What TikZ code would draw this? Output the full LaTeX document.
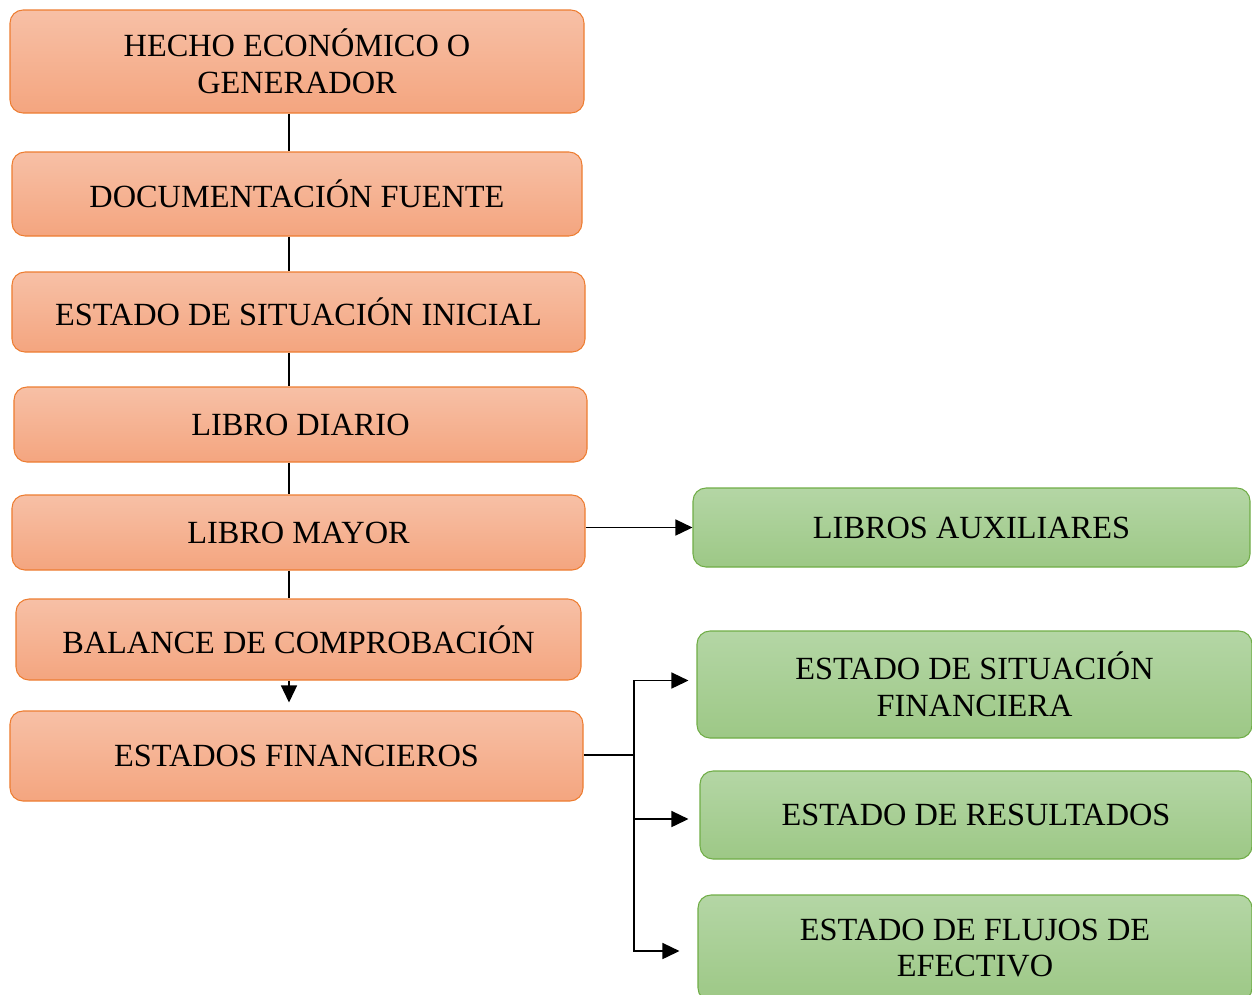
\documentclass[tikz,border=0pt]{standalone}
\usepackage{fontspec}
\setmainfont{Liberation Serif}
\usetikzlibrary{arrows.meta}
\definecolor{orangetop}{HTML}{F7C0A6}
\definecolor{orangebot}{HTML}{F4A57F}
\definecolor{orangeline}{HTML}{ED7D31}
\definecolor{greentop}{HTML}{B4D6A5}
\definecolor{greenbot}{HTML}{9DC886}
\definecolor{greenline}{HTML}{70AD47}

\begin{document}
\begin{tikzpicture}[
    stagebox/.style={draw=orangeline, line width=0.6pt, rounded corners=0.26cm,
      top color=orangetop, bottom color=orangebot, align=center,
      font=\fontsize{18.4}{21}\selectfont, inner sep=0pt},
    reportbox/.style={stagebox, draw=greenline, top color=greentop, bottom color=greenbot},
    link/.style={line width=0.8pt},
    tip/.style={link, -{Triangle[length=0.34cm, width=0.32cm]}}
  ]
     \useasboundingbox (0,0) rectangle (25.04,-19.88);
     \node[name=hecho, stagebox, minimum width=11.48cm, minimum height=2.06cm] at (5.94,-1.23){HECHO ECONÓMICO O\\GENERADOR};
     \node[name=docu, stagebox, minimum width=11.4cm, minimum height=1.68cm] at (5.94,-3.88){DOCUMENTACIÓN FUENTE};
     \node[name=inicial, stagebox, minimum width=11.46cm, minimum height=1.6cm] at (5.97,-6.24){ESTADO DE SITUACIÓN INICIAL};
     \node[name=diario, stagebox, minimum width=11.46cm, minimum height=1.5cm] at (6.01,-8.49){LIBRO DIARIO};
     \node[name=mayor, stagebox, minimum width=11.46cm, minimum height=1.5cm] at (5.97,-10.65){LIBRO MAYOR};
     \node[name=balance, stagebox, minimum width=11.3cm, minimum height=1.62cm] at (5.97,-12.79){BALANCE DE COMPROBACIÓN};
     \node[name=estados, stagebox, minimum width=11.46cm, minimum height=1.8cm] at (5.93,-15.12){ESTADOS FINANCIEROS};
     \node[name=aux, reportbox, minimum width=11.14cm, minimum height=1.58cm] at (19.43,-10.55){LIBROS AUXILIARES};
     \node[name=situacion, reportbox, minimum width=11.1cm, minimum height=2.14cm] at (19.49,-13.69){ESTADO DE SITUACIÓN\\FINANCIERA};
     \node[name=resultados, reportbox, minimum width=11.04cm, minimum height=1.76cm] at (19.52,-16.3){ESTADO DE RESULTADOS};
     \node[name=flujos, reportbox, minimum width=11.08cm, minimum height=2.12cm] at (19.5,-18.96){ESTADO DE FLUJOS DE\\EFECTIVO};
     \coordinate (spine) at (5.78,0);
     \coordinate (split) at (12.68,-15.1);
     \draw[link] (hecho.south -| spine) -- (docu.north -| spine);
     \draw[link] (docu.south -| spine) -- (inicial.north -| spine);
     \draw[link] (inicial.south -| spine) -- (diario.north -| spine);
     \draw[link] (diario.south -| spine) -- (mayor.north -| spine);
     \draw[link] (mayor.south -| spine) -- (balance.north -| spine);
     \draw[tip, shorten >=0.16cm] (balance.south -| spine) -- (estados.north -| spine);
     \draw[tip] (mayor.east |- aux.west) -- (aux.west);
     \draw[link] (estados.east |- split) -- (split);
     \draw[tip, shorten >=0.16cm] (split) |- ([yshift=0.08cm]situacion.west);
     \draw[tip, shorten >=0.22cm] (split) |- ([yshift=-0.08cm]resultados.west);
     \draw[tip, shorten >=0.36cm] (split) |- ([yshift=-0.06cm]flujos.west);
\end{tikzpicture}
\end{document}
